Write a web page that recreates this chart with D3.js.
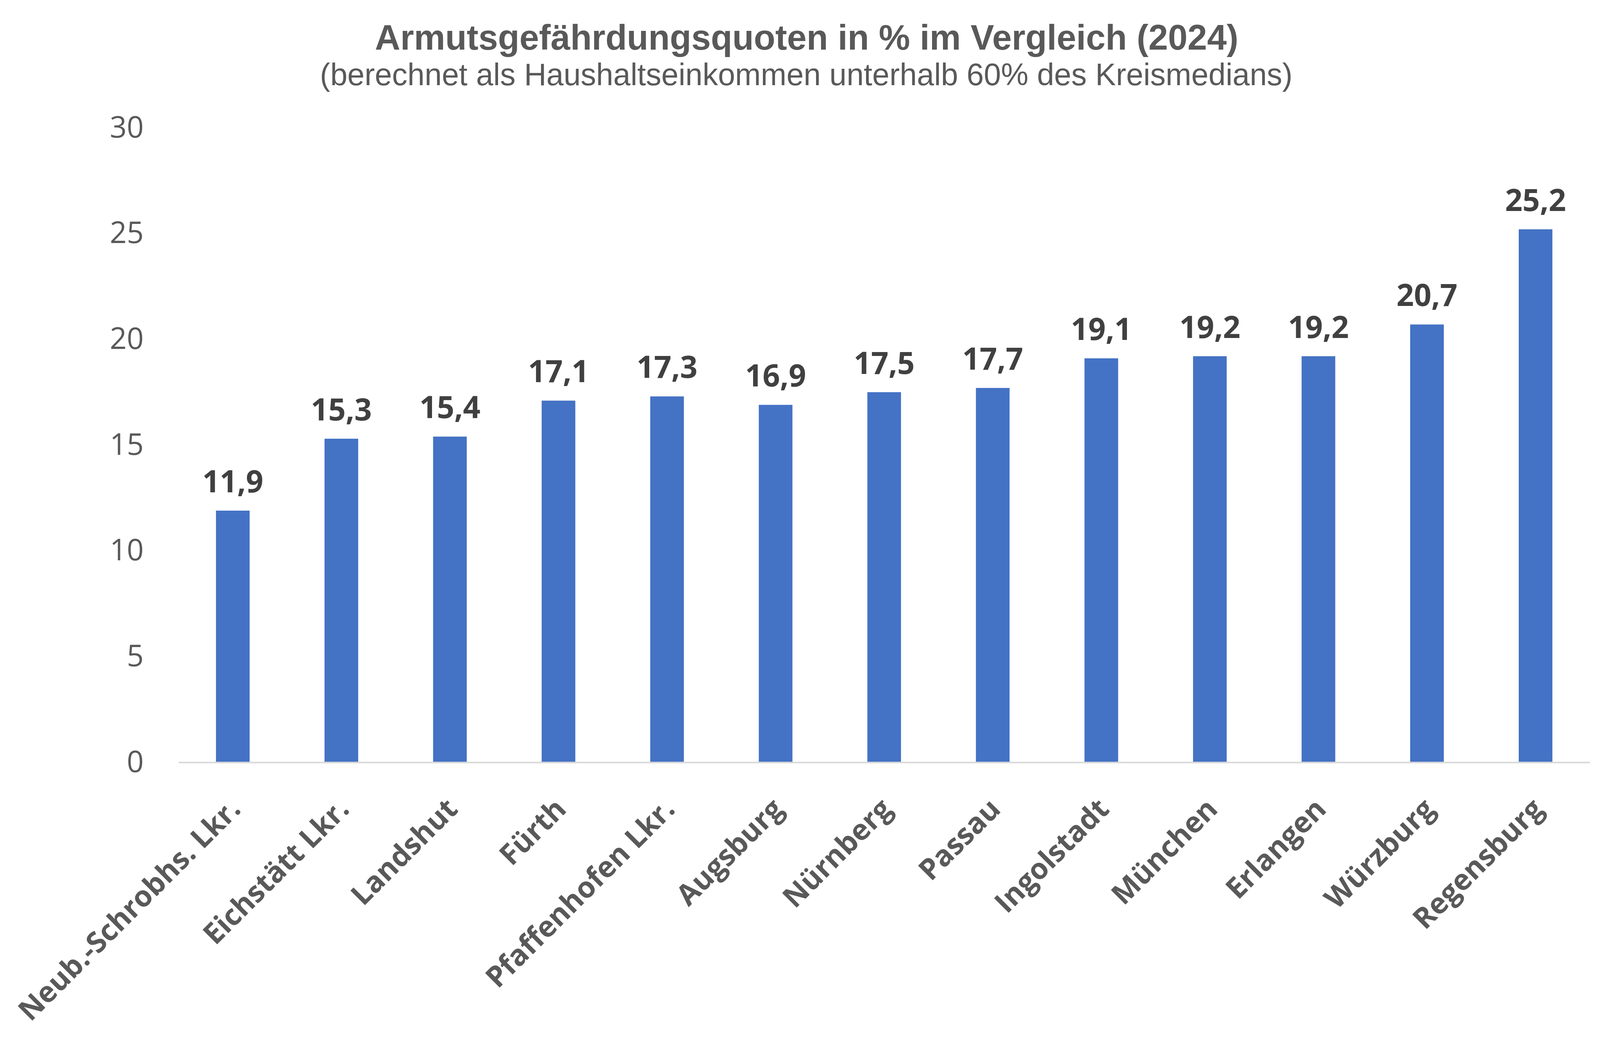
<!DOCTYPE html>
<html>
<head>
<meta charset="utf-8">
<script src="https://cdn.jsdelivr.net/npm/d3@7"></script>
<style>
  html, body { margin: 0; padding: 0; background: #fff; }
</style>
</head>
<body>
<svg id="chart" width="4134" height="2677"></svg>
<script>
// data
const regions = ["Neub.-Schrobhs. Lkr.", "Eichstätt Lkr.", "Landshut", "Fürth", "Pfaffenhofen Lkr.",
  "Augsburg", "Nürnberg", "Passau", "Ingolstadt", "München", "Erlangen", "Würzburg", "Regensburg"];
const quoten = [11.9, 15.3, 15.4, 17.1, 17.3, 16.9, 17.5, 17.7, 19.1, 19.2, 19.2, 20.7, 25.2];
const yTicks = [0, 5, 10, 15, 20, 25, 30];

const title = "Armutsgefährdungsquoten in % im Vergleich (2024)";
const subtitle = "(berechnet als Haushaltseinkommen unterhalb 60% des Kreismedians)";

const data = regions.map((name, i) => ({ name, value: quoten[i] }));

const svg = d3.select("#chart");
const plotLeft = 457, plotRight = 4070, plotTop = 327, plotBottom = 1951;

const x = d3.scaleBand().domain(regions).range([plotLeft, plotRight]).paddingInner(0.69).paddingOuter(0.345);
const y = d3.scaleLinear().domain([0, 30]).range([plotBottom, plotTop]);

// titles
svg.append("text")
  .attr("x", 2065).attr("y", 127)
  .attr("text-anchor", "middle")
  .attr("font-family", "Liberation Sans, Arial, sans-serif")
  .attr("font-weight", "bold")
  .attr("font-size", 90)
  .attr("fill", "#595959")
  .text(title);

svg.append("text")
  .attr("x", 2064).attr("y", 218)
  .attr("text-anchor", "middle")
  .attr("font-family", "Liberation Sans, Arial, sans-serif")
  .attr("font-size", 79)
  .attr("fill", "#595959")
  .text(subtitle);

// y axis labels, no axis line
const yAxis = svg.append("g")
  .attr("transform", `translate(${plotLeft},0)`)
  .call(d3.axisLeft(y).tickValues(yTicks).tickSize(0).tickPadding(89));
yAxis.select(".domain").remove();
yAxis.selectAll("text")
  .attr("font-family", "Open Sans, sans-serif")
  .attr("font-size", 76)
  .attr("fill", "#595959");

// bars
svg.append("g").selectAll("rect")
  .data(data)
  .join("rect")
  .attr("x", d => x(d.name))
  .attr("width", x.bandwidth())
  .attr("y", d => y(d.value))
  .attr("height", d => y(0) - y(d.value))
  .attr("fill", "#4472C4");

// baseline and category labels
const xAxis = svg.append("g")
  .attr("transform", `translate(0,${plotBottom})`)
  .call(d3.axisBottom(x).tickSize(0).tickPadding(0));
xAxis.select(".domain")
  .attr("stroke", "#d9d9d9")
  .attr("stroke-width", 4);
xAxis.selectAll(".tick text")
  .attr("font-family", "Open Sans, sans-serif")
  .attr("font-weight", "bold")
  .attr("font-size", 74)
  .attr("fill", "#595959")
  .attr("text-anchor", "end")
  .attr("dy", null)
  .attr("transform", "translate(24,124) rotate(-45)");

// value labels
svg.append("g").selectAll("text")
  .data(data)
  .join("text")
  .attr("x", d => x(d.name) + x.bandwidth() / 2)
  .attr("y", d => y(d.value) - 47)
  .attr("text-anchor", "middle")
  .attr("font-family", "Open Sans, sans-serif")
  .attr("font-weight", "bold")
  .attr("font-size", 78)
  .attr("fill", "#404040")
  .text(d => d3.format(".1f")(d.value).replace(".", ","));
</script>
</body>
</html>
